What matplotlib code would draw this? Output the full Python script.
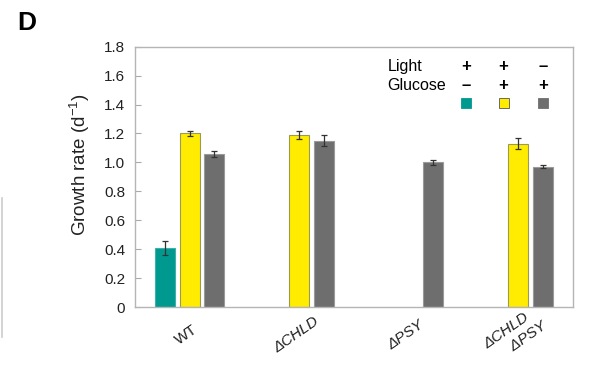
import numpy as np
import matplotlib.pyplot as plt
from matplotlib.lines import Line2D
from matplotlib.transforms import ScaledTranslation

plt.rcParams['font.family'] = ['Liberation Sans', 'DejaVu Sans']

strains = ['WT', 'ΔCHLD', 'ΔPSY', 'ΔCHLD\nΔPSY']
# light+/glucose-, light+/glucose+, light-/glucose+ (None = not measured)
teal_vals = [0.41, None, None, None]
teal_err = [0.05, None, None, None]
yellow_vals = [1.20, 1.19, None, 1.13]
yellow_err = [0.02, 0.03, None, 0.04]
gray_vals = [1.06, 1.15, 1.00, 0.97]
gray_err = [0.02, 0.04, 0.02, 0.01]

colors = ['#00998f', '#ffec00', '#6e6e6e']
edges = ['#3fb0a8', '#9a9a50', '#9a9a9a']

fig = plt.figure(figsize=(6.08, 3.67), dpi=100)
ax = fig.add_axes([0.222, 0.163, 0.72, 0.71])

x = np.arange(len(strains)) + 0.5
off = 0.224
w = 0.183

series = [(teal_vals, teal_err), (yellow_vals, yellow_err), (gray_vals, gray_err)]
for k, (vals, errs) in enumerate(series):
    for i, (v, e) in enumerate(zip(vals, errs)):
        if v is None:
            continue
        xi = x[i] + (k - 1) * off
        ax.bar(xi, v, width=w, color=colors[k], edgecolor=edges[k], linewidth=0.8, zorder=2)
        ax.errorbar(xi, v, yerr=e, fmt='none', ecolor='#333333', elinewidth=0.9,
                    capsize=2.5, capthick=0.9, zorder=3)

ax.set_xlim(0, 4)
ax.set_ylim(0, 1.8)
ax.set_yticks(np.arange(0, 1.81, 0.2))
ax.set_yticklabels(['0'] + ['%.1f' % t for t in np.arange(0.2, 1.81, 0.2)],
                   fontsize=11, color='#222222')
ax.tick_params(axis='y', direction='in', length=4, color='#aaaaaa', pad=7)

# strain labels, rotated, centred ~28 px under the axis
ax.set_xticks([])
lab_shift = ScaledTranslation(-0.03, -0.28, fig.dpi_scale_trans)
for xi, name in zip(x, strains):
    txt = name.replace('\n', '\n     ')
    ax.text(xi, 0, txt, transform=ax.get_xaxis_transform() + lab_shift,
            rotation=35, rotation_mode='anchor', ha='center', va='center',
            multialignment='left', fontsize=11, color='#222222',
            fontstyle='normal' if name == 'WT' else 'italic')

for s in ax.spines.values():
    s.set_color('#b5b5b5')
    s.set_linewidth(1.0)

ax.set_ylabel('Growth rate (d$^{\\mathregular{-1}}$)', fontsize=13.5, color='#222222')
ax.yaxis.set_label_coords(-0.098, 0.545)

# condition key
ax.text(0.578, 0.925, 'Light', transform=ax.transAxes, fontsize=11.5, va='center')
ax.text(0.576, 0.852, 'Glucose', transform=ax.transAxes, fontsize=11.5, va='center')
light = ['+', '+', '–']
glucose = ['–', '+', '+']
cols_x = [0.756, 0.842, 0.932]
for cx, l, g, c in zip(cols_x, light, glucose, colors):
    ax.text(cx, 0.925, l, transform=ax.transAxes, fontsize=12, fontweight='bold',
            ha='center', va='center')
    ax.text(cx, 0.852, g, transform=ax.transAxes, fontsize=12, fontweight='bold',
            ha='center', va='center')
    ax.plot([cx], [0.784], marker='s', markersize=6.5, color=c,
            markeredgecolor='#555555' if c == '#ffec00' else c, markeredgewidth=0.6,
            transform=ax.transAxes, clip_on=False)

fig.text(0.028, 0.938, 'D', fontsize=19, fontweight='bold', va='center')
fig.add_artist(Line2D([0.003, 0.003], [1 - 198 / 367, 1 - 337 / 367],
                      color='#cccccc', lw=1.2, transform=fig.transFigure))

fig.savefig('out.png', dpi=100)
